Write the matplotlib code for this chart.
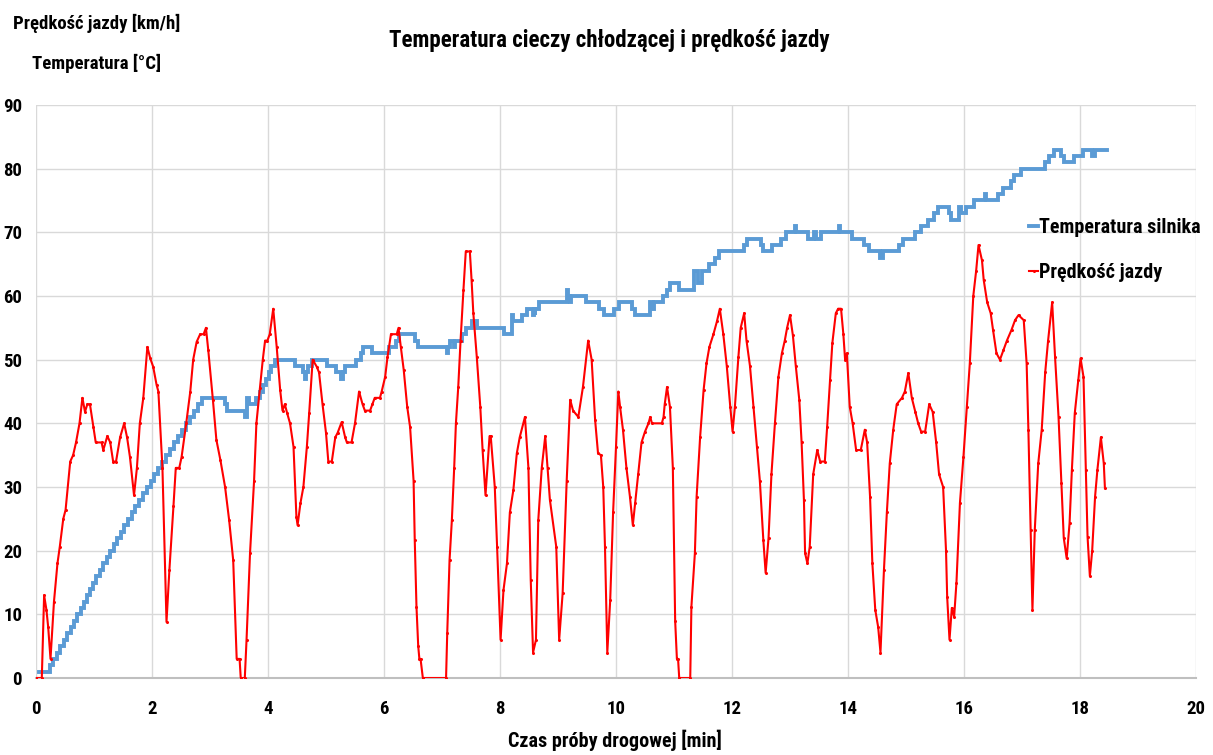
import matplotlib
matplotlib.use("Agg")
import matplotlib.pyplot as plt
from matplotlib import font_manager as fm

# ---------------- data ----------------
speed_t = [0.0, 0.1, 0.14, 0.18, 0.21, 0.25, 0.31, 0.37, 0.41, 0.47, 0.51, 0.59, 0.64, 0.69, 0.75, 0.80,
           0.845, 0.885, 0.93, 0.99, 1.03, 1.13, 1.16, 1.23, 1.28, 1.33, 1.38, 1.45, 1.52, 1.57, 1.62, 1.69,
           1.74, 1.79, 1.85, 1.92, 1.97, 2.02, 2.08, 2.11, 2.18, 2.25, 2.30, 2.37, 2.41, 2.47, 2.51, 2.59,
           2.66, 2.71, 2.77, 2.83, 2.89, 2.93, 2.97, 3.05, 3.11, 3.18, 3.26, 3.33, 3.40, 3.46, 3.51, 3.53,
           3.60, 3.63, 3.69, 3.76, 3.80, 3.86, 3.91, 3.95, 3.99, 4.03, 4.09, 4.15, 4.21, 4.25, 4.29, 4.33,
           4.38, 4.44, 4.49, 4.51, 4.56, 4.61, 4.67, 4.71, 4.77, 4.84, 4.88, 4.94, 5.00, 5.04, 5.10, 5.16,
           5.20, 5.27, 5.33, 5.36, 5.44, 5.50, 5.57, 5.63, 5.67, 5.76, 5.80, 5.84, 5.93, 5.96, 6.02, 6.06,
           6.12, 6.22, 6.25, 6.29, 6.34, 6.40, 6.45, 6.51, 6.53, 6.56, 6.59, 6.61, 6.63, 6.67, 7.07, 7.09,
           7.13, 7.17, 7.21, 7.24, 7.28, 7.32, 7.37, 7.41, 7.48, 7.51, 7.54, 7.60, 7.66, 7.70, 7.75, 7.82,
           7.84, 7.91, 7.95, 8.01, 8.06, 8.12, 8.17, 8.23, 8.29, 8.34, 8.43, 8.49, 8.53, 8.57, 8.62, 8.66,
           8.72, 8.78, 8.82, 8.86, 8.97, 9.02, 9.08, 9.15, 9.21, 9.26, 9.35, 9.43, 9.52, 9.58, 9.64, 9.69,
           9.74, 9.78, 9.81, 9.85, 9.90, 9.95, 10.00, 10.04, 10.07, 10.12, 10.18, 10.24, 10.29, 10.33, 10.38,
           10.44, 10.50, 10.56, 10.59, 10.62, 10.79, 10.82, 10.84, 10.88, 10.93, 10.98, 11.02, 11.05, 11.07,
           11.09, 11.28, 11.30, 11.36, 11.39, 11.45, 11.51, 11.56, 11.61, 11.68, 11.74, 11.79, 11.85, 11.91,
           11.97, 12.01, 12.05, 12.11, 12.15, 12.21, 12.25, 12.31, 12.37, 12.43, 12.48, 12.54, 12.58, 12.63,
           12.68, 12.74, 12.80, 12.86, 12.91, 12.95, 13.00, 13.05, 13.10, 13.16, 13.20, 13.24, 13.26, 13.30,
           13.34, 13.40, 13.47, 13.52, 13.60, 13.64, 13.69, 13.73, 13.79, 13.83, 13.88, 13.92, 13.95, 13.98,
           14.03, 14.08, 14.14, 14.22, 14.29, 14.33, 14.38, 14.42, 14.47, 14.52, 14.56, 14.62, 14.67, 14.72,
           14.78, 14.84, 14.93, 14.98, 15.04, 15.10, 15.16, 15.21, 15.26, 15.33, 15.40, 15.46, 15.52, 15.57,
           15.64, 15.69, 15.71, 15.75, 15.79, 15.83, 15.87, 15.93, 15.99, 16.05, 16.10, 16.16, 16.21, 16.25,
           16.31, 16.34, 16.40, 16.46, 16.50, 16.56, 16.62, 16.68, 16.74, 16.82, 16.88, 16.94, 17.03, 17.08,
           17.11, 17.15, 17.18, 17.22, 17.28, 17.34, 17.40, 17.45, 17.52, 17.57, 17.63, 17.68, 17.72, 17.77,
           17.82, 17.86, 17.91, 17.97, 18.01, 18.06, 18.10, 18.13, 18.17, 18.21, 18.26, 18.30, 18.36, 18.41,
           18.43]
speed_v = [0, 0, 13, 10.7, 8, 3, 12, 18, 20.6, 25, 26.4, 34, 35, 37, 40, 44,
           41.8, 43, 43, 39.4, 37, 37, 35.8, 38, 37, 34, 34, 37.8, 40, 37.8, 34.7, 28.7,
           33, 40, 44, 52, 50.2, 48.9, 46, 45, 33, 8.8, 17, 27, 33, 33, 34.7, 40,
           45, 50, 52.8, 54, 54, 55, 51.5, 43.7, 37.4, 34.2, 30, 24.8, 18.5, 3, 3, 0,
           0, 6, 19.6, 31, 40, 45.5, 50, 53, 53, 54, 58, 52, 45.2, 42, 43, 41.6,
           40, 36.3, 25.3, 24, 27.5, 30, 36.3, 41.6, 50, 48.9, 48, 43, 38.5, 34, 34, 37.8,
           38.5, 40.2, 37.8, 37, 37, 40, 45, 43, 42, 42, 43, 44, 44, 45, 47.3, 50.4,
           54, 54, 55, 52, 48.4, 42.6, 39.4, 31, 21.7, 11.2, 5, 3, 3, 0, 0, 7,
           18.5, 24.8, 33, 40, 45.7, 53, 61, 67, 67, 62.5, 57.3, 50.4, 42.6, 35.8, 28.7, 38,
           38, 30, 20.6, 6, 13.8, 18, 26, 29.5, 35.3, 37.8, 41, 33, 15.4, 4, 6, 24.8,
           33, 38, 33, 28, 20.6, 6, 13.3, 31, 43.7, 42, 41, 45.7, 53, 50, 40.5, 35.3,
           35, 30, 20.6, 4, 12.2, 26, 36.3, 45, 42.6, 39, 33, 28.5, 24, 27.5, 32,
           37, 38.7, 40, 41, 40, 40, 41, 43, 45.7, 42.6, 33, 9, 3, 3,
           0, 0, 11.2, 19.6, 28.5, 37.8, 45.2, 49.4, 52, 54, 56, 58, 54, 49,
           42.6, 38.7, 42.6, 50.4, 55, 57.3, 53, 49, 42.6, 36.3, 31, 21.7, 16.5, 22,
           32, 40, 47.3, 51, 53, 55, 57, 53.8, 49, 43.7, 37, 28, 19.6, 18,
           20.6, 32, 35.8, 34, 34, 39.4, 46.8, 52.6, 57.3, 58, 58, 54, 50, 51,
           42.6, 40, 35.8, 35.8, 39, 37, 28.5, 18, 10.7, 8, 4, 17, 26, 33.7,
           39, 43, 44, 45, 47.9, 44, 41.8, 40, 38.7, 38.7, 43, 41.8, 37, 32,
           30, 20, 12.7, 6, 11, 9.6, 15, 27.5, 34.7, 42.6, 49.4, 60, 64, 68,
           65.6, 62.5, 59, 57.3, 54.7, 51, 50, 51.5, 53, 54.7, 56.2, 57, 56.2, 49.4,
           39, 23.2, 10.7, 23.2, 33.7, 39, 48, 53, 59, 50.4, 41, 30.6, 22, 18.8,
           24.3, 32.7, 41.6, 46.8, 50.2, 47.3, 32.7, 22.2, 16, 20, 28.5, 32.7, 37.8, 33.7,
           29.8]

temp_t = [0.05, 0.24, 0.30, 0.36, 0.42, 0.48, 0.54, 0.60, 0.65, 0.71, 0.77, 0.82, 0.88, 0.93, 0.99,
          1.04, 1.10, 1.16, 1.22, 1.28, 1.34, 1.40, 1.46, 1.52, 1.58, 1.65, 1.71, 1.78, 1.85, 1.91,
          1.98, 2.04, 2.10, 2.17, 2.24, 2.31, 2.38, 2.45, 2.52, 2.59, 2.66, 2.73, 2.80, 2.87, 3.26,
          3.30, 3.60, 3.63, 3.68, 3.80, 3.86, 3.91, 3.96, 4.01, 4.06, 4.12, 4.47, 4.61, 4.63, 4.66,
          4.69, 4.76, 5.02, 5.17, 5.26, 5.29, 5.32, 5.51, 5.60, 5.64, 5.80, 6.08, 6.20, 6.25, 6.54,
          6.58, 7.08, 7.10, 7.14, 7.21, 7.23, 7.34, 7.42, 7.51, 7.61, 8.07, 8.21, 8.23, 8.38, 8.47,
          8.57, 8.58, 8.60, 8.61, 8.68, 9.15, 9.17, 9.21, 9.22, 9.48, 9.70, 9.80, 9.96, 10.06, 10.28,
          10.33, 10.58, 10.63, 10.65, 10.81, 10.88, 10.93, 11.09, 11.34, 11.42, 11.48, 11.61, 11.70,
          11.78, 12.21, 12.25, 12.50, 12.54, 12.69, 12.85, 12.93, 13.09, 13.11, 13.31, 13.42, 13.44,
          13.54, 13.85, 13.87, 14.07, 14.28, 14.36, 14.56, 14.60, 14.88, 14.95, 15.15, 15.25, 15.38,
          15.48, 15.55, 15.74, 15.78, 15.91, 15.94, 16.03, 16.18, 16.36, 16.38, 16.58, 16.67, 16.81,
          16.87, 16.98, 17.39, 17.47, 17.56, 17.68, 17.73, 17.90, 18.05, 18.21, 18.26, 18.46]
temp_v = [1, 2, 3, 4, 5, 6, 7, 8, 9, 10, 11, 12, 13, 14, 15,
          16, 17, 18, 19, 20, 21, 22, 23, 24, 25, 26, 27, 28, 29, 30,
          31, 32, 33, 34, 35, 36, 37, 38, 39, 40, 41, 42, 43, 44, 43,
          42, 41, 44, 43, 44, 45, 46, 47, 48, 49, 50, 49, 48, 47, 48,
          49, 50, 49, 48, 47, 48, 49, 50, 51, 52, 51, 52, 53, 54, 53,
          52, 51, 52, 53, 52, 53, 54, 55, 56, 55, 54, 57, 56, 57, 58,
          57, 58, 57, 58, 59, 61, 60, 59, 60, 59, 58, 57, 58, 59, 58,
          57, 59, 58, 59, 60, 61, 62, 61, 64, 62, 64, 65, 66,
          67, 68, 69, 68, 67, 68, 69, 70, 71, 70, 69, 70, 69,
          70, 71, 70, 69, 68, 67, 66, 67, 68, 69, 70, 71, 72,
          73, 74, 73, 72, 74, 73, 74, 75, 76, 75, 76, 77, 78,
          79, 80, 81, 82, 83, 82, 81, 82, 83, 82, 83, 83]

x_ticks = [0, 2, 4, 6, 8, 10, 12, 14, 16, 18, 20]
y_ticks = [0, 10, 20, 30, 40, 50, 60, 70, 80, 90]

title = "Temperatura cieczy chłodzącej i prędkość jazdy"
y_label_1 = "Prędkość jazdy [km/h]"
y_label_2 = "Temperatura [°C]"
x_label = "Czas próby drogowej [min]"
temp_name = "Temperatura silnika"
speed_name = "Prędkość jazdy"

# ---------------- fonts ----------------
available = {f.name for f in fm.fontManager.ttflist}
fam = []
for cand in ["Liberation Sans Narrow", "Roboto Condensed", "Open Sans Condensed", "Liberation Sans"]:
    if cand in available:
        fam.append(cand)
        break
fam.append("DejaVu Sans")
plt.rcParams["font.family"] = fam
plt.rcParams["font.weight"] = "bold"

# ---------------- figure ----------------
fig = plt.figure(figsize=(12.13, 7.55), dpi=100)
ax = fig.add_axes([36 / 1213, 77 / 755, 1160 / 1213, 573 / 755])

ax.plot(temp_t, temp_v, drawstyle="steps-post", color="#5B9BD5", lw=2.8,
        solid_joinstyle="miter", label=temp_name, zorder=3)
ax.plot(speed_t, speed_v, color="#FF0000", lw=1.5, marker="o", markersize=1.2,
        label=speed_name, zorder=4)

ax.set_xlim(0, 20)
ax.set_ylim(0, 90)
ax.set_xticks(x_ticks)
ax.set_yticks(y_ticks)
ax.grid(True, color="#D9D9D9", lw=1.0)
ax.set_axisbelow(True)
for s in ["top", "right", "left"]:
    ax.spines[s].set_visible(False)
ax.spines["bottom"].set_color("#BFBFBF")
ax.spines["bottom"].set_linewidth(1.5)
ax.tick_params(length=0, labelsize=13.5)
ax.tick_params(axis="x", pad=16)
ax.tick_params(axis="y", pad=10)
for lab in ax.get_xticklabels() + ax.get_yticklabels():
    lab.set_fontweight("bold")

fig.text(609 / 1213, 1 - 40 / 755, title, ha="center", va="center", fontsize=16.5, fontweight="bold")
fig.text(97 / 1213, 1 - 23 / 755, y_label_1, ha="center", va="center", fontsize=13.5, fontweight="bold")
fig.text(97 / 1213, 1 - 63 / 755, y_label_2, ha="center", va="center", fontsize=13.5, fontweight="bold")
fig.text(615 / 1213, 1 - 740 / 755, x_label, ha="center", va="center", fontsize=14.5, fontweight="bold")

leg = ax.legend(loc="upper left", bbox_to_anchor=(1011 / 1213, 1 - 200 / 755),
                bbox_transform=fig.transFigure, frameon=False, handlelength=0.45,
                handletextpad=0.05, labelspacing=1.3, prop={"size": 14.5, "weight": "bold"})

fig.savefig("out.png", dpi=100)
